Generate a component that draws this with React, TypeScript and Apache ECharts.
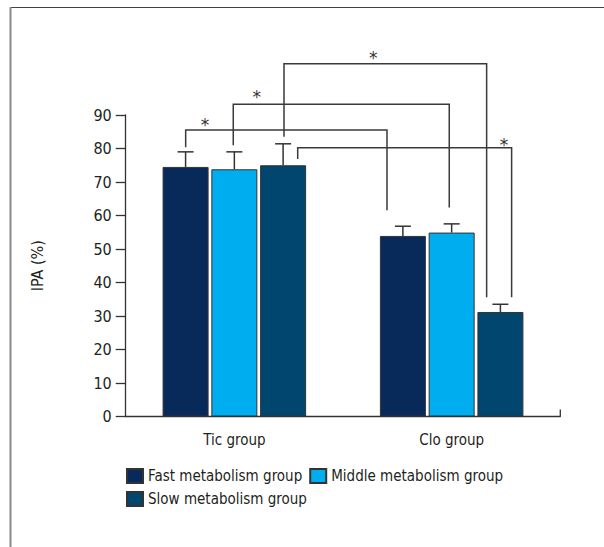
import React, { useEffect, useRef } from "react";
import * as echarts from "echarts";

const categories = ["Tic group", "Clo group"];
const seriesNames = ["Fast metabolism group", "Middle metabolism group", "Slow metabolism group"];
const fastMeans = [74.5, 53.9];
const middleMeans = [73.8, 54.9];
const slowMeans = [75.0, 31.2];
const fastUpper = [79.0, 56.8];
const middleUpper = [79.0, 57.5];
const slowUpper = [81.4, 33.5];

// significance brackets (x in category units, y in IPA %)
const bracketLeftX = [-0.224, -0.005, 0.2285, 0.2915];
const bracketRightX = [0.7025, 0.989, 1.161, 1.276];
const bracketLevel = [85.5, 93.2, 105.3, 80.2];
const bracketLeftEnd = [80.4, 81.0, 83.5, 76.9];
const bracketRightEnd = [61.6, 62.4, 35.6, 35.6];
const starX = [-0.135, 0.103, 0.639, 1.241];
const starY = [88.2, 96.5, 108.3, 82.2];
const starLabels = ["*", "*", "*", "*"];

const colors = ["#072a5a", "#00adee", "#00466f"];
const FONT = "'DejaVu Sans Condensed', 'DejaVu Sans', sans-serif";
const TEXT = "#231f20";
const BAR_W = 46;
const BAR_GAP = 0.06;

export default function App() {
  const ref = useRef<HTMLDivElement>(null);
  useEffect(() => {
    if (!ref.current) return;
    const chart = echarts.init(ref.current, undefined, { renderer: "svg" });
    const means = [fastMeans, middleMeans, slowMeans];
    const uppers = [fastUpper, middleUpper, slowUpper];
    const errData: number[][] = [];
    for (let s = 0; s < 3; s++) {
      for (let c = 0; c < categories.length; c++) {
        errData.push([c, s, means[s][c], uppers[s][c]]);
      }
    }
    const bracketData = bracketLeftX.map((lx, i) => [
      lx,
      bracketRightX[i],
      bracketLevel[i],
      bracketLeftEnd[i],
      bracketRightEnd[i],
      starX[i],
      starY[i],
    ]);
    const option: any = {
      animation: false,
      backgroundColor: "#ffffff",
      textStyle: { fontFamily: FONT },
      grid: { left: 125.7, right: 43.7, top: 115, bottom: 130.5, containLabel: false },
      legend: {
        data: seriesNames,
        left: 126,
        top: 468,
        width: 420,
        padding: 0,
        itemWidth: 16,
        itemHeight: 14,
        itemGap: 7,
        icon: "rect",
        textStyle: { fontFamily: FONT, fontSize: 15, color: TEXT, padding: [0, 5, 0, 0] },
      },
      xAxis: [
        {
          type: "category",
          data: categories,
          axisLine: { onZero: false, lineStyle: { color: "#333", width: 1.3 } },
          axisTick: { show: false },
          axisLabel: { fontFamily: FONT, fontSize: 15, color: TEXT, margin: 16 },
        },
        {
          type: "value",
          min: -0.5,
          max: 1.5,
          show: false,
          axisLine: { show: false, onZero: false },
          axisTick: { show: false },
          axisLabel: { show: false },
          splitLine: { show: false },
        },
      ],
      yAxis: {
        type: "value",
        min: 0,
        max: 90,
        interval: 10,
        name: "IPA (%)",
        nameLocation: "middle",
        nameGap: 80,
        nameTextStyle: { fontFamily: FONT, fontSize: 16, color: TEXT },
        axisLine: { show: true, onZero: false, lineStyle: { color: "#333", width: 1.3 } },
        axisTick: { show: true, length: 10, lineStyle: { color: "#333", width: 1.3 } },
        axisLabel: { fontFamily: FONT, fontSize: 16, color: TEXT, margin: 14 },
        splitLine: { show: false },
      },
      series: [
        ...seriesNames.map((name, s) => ({
          name,
          type: "bar",
          data: means[s],
          barWidth: BAR_W,
          barGap: BAR_GAP * 100 + "%",
          itemStyle: { color: colors[s], borderColor: "#333", borderWidth: 1 },
          z: 2,
        })),
        {
          type: "custom",
          xAxisIndex: 0,
          yAxisIndex: 0,
          data: errData,
          encode: { x: 0, y: [2, 3] },
          z: 3,
          renderItem: (params: any, api: any) => {
            const cat = api.value(0);
            const sIdx = api.value(1);
            const base = api.coord([cat, api.value(2)]);
            const top = api.coord([cat, api.value(3)]);
            const x = base[0] + (sIdx - 1) * BAR_W * (1 + BAR_GAP);
            const st = { stroke: "#333", lineWidth: 1.5 };
            return {
              type: "group",
              children: [
                { type: "line", shape: { x1: x, y1: base[1], x2: x, y2: top[1] }, style: st },
                { type: "line", shape: { x1: x - 8, y1: top[1], x2: x + 8, y2: top[1] }, style: st },
              ],
            };
          },
        },
        {
          type: "custom",
          xAxisIndex: 1,
          yAxisIndex: 0,
          data: bracketData,
          encode: { x: [0, 1, 5], y: [2, 3, 4, 6] },
          z: 4,
          renderItem: (params: any, api: any) => {
            const lx = api.value(0);
            const rx = api.value(1);
            const lv = api.value(2);
            const p1 = api.coord([lx, api.value(3)]);
            const p2 = api.coord([lx, lv]);
            const p3 = api.coord([rx, lv]);
            const p4 = api.coord([rx, api.value(4)]);
            const sp = api.coord([api.value(5), api.value(6)]);
            return {
              type: "group",
              children: [
                {
                  type: "polyline",
                  shape: { points: [p1, p2, p3, p4] },
                  style: { stroke: "#3a3a3a", lineWidth: 1.5, fill: "none" },
                },
                {
                  type: "text",
                  x: sp[0],
                  y: sp[1] + 4,
                  style: {
                    text: starLabels[params.dataIndex],
                    fontFamily: "'DejaVu Sans', sans-serif",
                    fontSize: 17,
                    fill: "#333",
                    align: "center",
                    verticalAlign: "middle",
                  },
                },
              ],
            };
          },
        },
        {
          type: "custom",
          xAxisIndex: 1,
          yAxisIndex: 0,
          data: [[1.5, 0]],
          z: 4,
          renderItem: (params: any, api: any) => {
            const p = api.coord([api.value(0), api.value(1)]);
            return {
              type: "line",
              shape: { x1: p[0], y1: p[1], x2: p[0], y2: p[1] - 7 },
              style: { stroke: "#333", lineWidth: 1.3 },
            };
          },
        },
      ],
      graphic: [
        { type: "line", shape: { x1: 10, y1: 7.5, x2: 604, y2: 7.5 }, style: { stroke: "#444", lineWidth: 1.2 } },
        { type: "line", shape: { x1: 10.5, y1: 7, x2: 10.5, y2: 547 }, style: { stroke: "#8a8a8a", lineWidth: 2 } },
      ],
    };
    chart.setOption(option);
    return () => chart.dispose();
  }, []);
  return (
    <div
      ref={ref}
      style={{ position: "absolute", left: 0, top: 0, width: 604, height: 547, background: "#fff" }}
    />
  );
}
